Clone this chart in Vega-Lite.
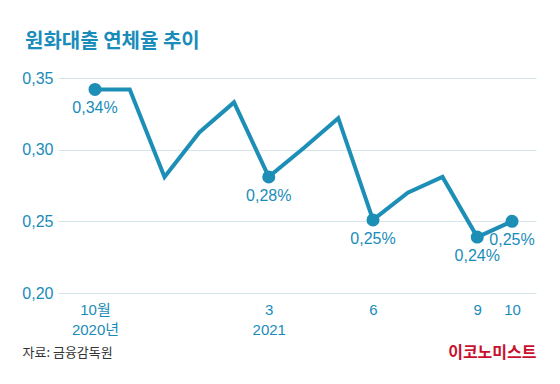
{
  "$schema": "https://vega.github.io/schema/vega-lite/v6.json",
  "autosize": {"type": "none"},
  "width": 478,
  "height": 215,
  "padding": {"left": 58, "top": 78, "right": 24, "bottom": 91},
  "background": "white",
  "config": {
    "locale": {"number": {"decimal": ",", "thousands": ".", "grouping": [3], "currency": ["", ""]}},
    "font": "Noto Sans CJK KR",
    "view": {"stroke": null}
  },
  "title": {
    "text": "원화대출 연체율 추이",
    "anchor": "start",
    "frame": "group",
    "dx": -33,
    "offset": 18,
    "fontSize": 20,
    "fontWeight": "bold",
    "color": "#1a8cba",
    "font": "Noto Sans CJK KR"
  },
  "data": {
    "values": [
      {"m": 0, "rate": 0.342, "label": "0,34%"},
      {"m": 1, "rate": 0.342, "label": ""},
      {"m": 2, "rate": 0.281, "label": ""},
      {"m": 3, "rate": 0.312, "label": ""},
      {"m": 4, "rate": 0.333, "label": ""},
      {"m": 5, "rate": 0.281, "label": "0,28%"},
      {"m": 6, "rate": 0.301, "label": ""},
      {"m": 7, "rate": 0.322, "label": ""},
      {"m": 8, "rate": 0.251, "label": "0,25%"},
      {"m": 9, "rate": 0.270, "label": ""},
      {"m": 10, "rate": 0.281, "label": ""},
      {"m": 11, "rate": 0.239, "label": "0,24%"},
      {"m": 12, "rate": 0.250, "label": "0,25%"}
    ]
  },
  "resolve": {"axis": {"x": "independent"}},
  "layer": [
    {
      "mark": {"type": "line", "color": "#1d8fb6", "strokeWidth": 4, "strokeJoin": "miter"},
      "encoding": {
        "x": {
          "field": "m", "type": "quantitative",
          "scale": {"domain": [-1.065, 12.69], "nice": false, "zero": false},
          "axis": {
            "values": [0, 5, 8, 11, 12],
            "labelExpr": "datum.value == 0 ? ['10월', '2020년'] : datum.value == 5 ? ['3', '2021'] : datum.value == 8 ? '6' : datum.value == 11 ? '9' : '10'",
            "labelFontSize": 15,
            "labelColor": "#1a8cba",
            "labelFont": "Liberation Sans, Noto Sans CJK KR",
            "labelLineHeight": 20,
            "labelPadding": 9,
            "ticks": false,
            "domain": false,
            "grid": false,
            "title": "자료: 금융감독원",
            "titleAnchor": "start",
            "titleAlign": "left",
            "titleX": -36,
            "titleY": 59,
            "titleBaseline": "middle",
            "titleFontSize": 13,
            "titleFontWeight": "normal",
            "titleColor": "#333333",
            "titleFont": "Noto Sans CJK KR"
          }
        },
        "y": {
          "field": "rate", "type": "quantitative",
          "scale": {"domain": [0.2, 0.35], "nice": false, "zero": false},
          "axis": {
            "values": [0.2, 0.25, 0.3, 0.35],
            "format": ".2f",
            "labelFontSize": 16,
            "labelFont": "Liberation Sans",
            "labelColor": "#1a8cba",
            "labelPadding": 5,
            "ticks": false,
            "domain": false,
            "gridColor": "#d6e4ec",
            "gridWidth": 1,
            "title": null
          }
        }
      }
    },
    {
      "transform": [{"filter": "datum.label != ''"}],
      "mark": {"type": "circle", "color": "#1d8fb6", "opacity": 1, "size": 170},
      "encoding": {
        "x": {
          "field": "m", "type": "quantitative",
          "scale": {"domain": [-1.065, 12.69], "nice": false, "zero": false},
          "axis": {
            "orient": "top",
            "labels": false,
            "ticks": false,
            "domain": false,
            "grid": false,
            "title": "이코노미스트",
            "titleAnchor": "end",
            "titleAlign": "right",
            "titleX": 478,
            "titleY": 274,
            "titleBaseline": "middle",
            "titleFontSize": 16,
            "titleFontWeight": "bold",
            "titleColor": "#c8102e",
            "titleFont": "Noto Sans CJK KR"
          }
        },
        "y": {"field": "rate", "type": "quantitative"}
      }
    },
    {
      "transform": [{"filter": "datum.label != ''"}],
      "mark": {"type": "text", "color": "#1a8cba", "fontSize": 16, "dy": 19, "baseline": "middle", "font": "Liberation Sans"},
      "encoding": {
        "x": {"field": "m", "type": "quantitative", "axis": null},
        "y": {"field": "rate", "type": "quantitative"},
        "text": {"field": "label"}
      }
    }
  ]
}
